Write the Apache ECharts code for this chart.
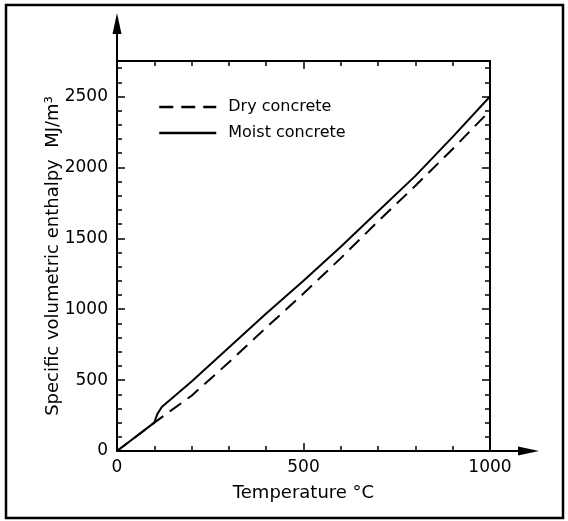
<!DOCTYPE html>
<html>
<head>
<meta charset="utf-8">
<script src="https://cdn.jsdelivr.net/npm/echarts@6/dist/echarts.min.js"></script>
<style>
html,body{margin:0;padding:0;background:#fff;}
#chart{width:568px;height:521px;}
</style>
</head>
<body>
<div id="chart"></div>
<script>
// Data
const dryTemp = [0, 100, 200, 300, 400, 500, 600, 700, 800, 900, 1000];
const dryEnthalpy = [0, 200, 390, 625, 870, 1110, 1360, 1620, 1870, 2130, 2400];
const moistTemp = [0, 100, 108, 120, 200, 300, 400, 500, 600, 700, 800, 900, 1000];
const moistEnthalpy = [0, 200, 260, 310, 490, 730, 970, 1200, 1440, 1690, 1940, 2215, 2500];
const seriesNames = ['Dry concrete', 'Moist concrete'];
const xTitle = 'Temperature °C';
const yTitle = 'Specific volumetric enthalpy  MJ/m³';

const FONT = 'DejaVu Sans';
const pairs = (xs, ys) => xs.map((x, i) => [x, ys[i]]);
const plain = v => String(v);

const chart = echarts.init(document.getElementById('chart'), null, {renderer: 'canvas'});

const lineAxis = {onZero: false, lineStyle: {color: '#000', width: 2}};
const tickIn = {show: true, inside: true, length: 8, lineStyle: {color: '#000', width: 1.5}};
const minorIn = {show: true, splitNumber: 5, length: 5, lineStyle: {color: '#000', width: 1.5}};

chart.setOption({
  animation: false,
  backgroundColor: '#fff',
  textStyle: {fontFamily: FONT, color: '#000'},
  grid: {left: 117, right: 78, top: 61, bottom: 70, containLabel: false},
  legend: {
    orient: 'vertical',
    left: 153,
    top: 94,
    itemWidth: 57,
    itemHeight: 20,
    itemGap: 10,
    data: seriesNames,
    itemStyle: {opacity: 0},
    lineStyle: {width: 2.5},
    textStyle: {fontFamily: FONT, fontSize: 16, color: '#000', padding: [0, 0, 0, 7]},
    selectedMode: false
  },
  xAxis: [{
    type: 'value', min: 0, max: 1000, interval: 500,
    name: xTitle, nameLocation: 'middle', nameGap: 33,
    nameTextStyle: {fontFamily: FONT, fontSize: 18, color: '#000'},
    axisLine: lineAxis, axisTick: tickIn, minorTick: minorIn,
    axisLabel: {fontFamily: FONT, fontSize: 17, color: '#000', margin: 8, formatter: plain},
    splitLine: {show: false}
  }, {
    type: 'value', position: 'top', min: 0, max: 1000, interval: 500,
    axisLine: lineAxis, axisTick: tickIn, minorTick: minorIn,
    axisLabel: {show: false}, splitLine: {show: false}
  }],
  yAxis: [{
    type: 'value', min: 0, max: 2750, interval: 500,
    name: yTitle, nameLocation: 'middle', nameGap: 55, nameMoveOverlap: false,
    nameTextStyle: {fontFamily: FONT, fontSize: 18, color: '#000'},
    axisLine: lineAxis, axisTick: tickIn, minorTick: minorIn,
    axisLabel: {fontFamily: FONT, fontSize: 17, color: '#000', margin: 9, showMaxLabel: false, formatter: plain},
    splitLine: {show: false}
  }, {
    type: 'value', position: 'right', min: 0, max: 2750, interval: 500,
    axisLine: lineAxis, axisTick: tickIn, minorTick: minorIn,
    axisLabel: {show: false}, splitLine: {show: false}
  }],
  series: [{
    name: seriesNames[0], type: 'line', data: pairs(dryTemp, dryEnthalpy),
    showSymbol: false, symbol: 'none', smooth: false,
    lineStyle: {color: '#000', width: 2, type: [14, 8]},
    itemStyle: {color: '#000'}
  }, {
    name: seriesNames[1], type: 'line', data: pairs(moistTemp, moistEnthalpy),
    showSymbol: false, symbol: 'none', smooth: false,
    lineStyle: {color: '#000', width: 2, type: 'solid'},
    itemStyle: {color: '#000'}
  }]
});

// Decorations: outer frame and axis arrows, positioned from the axes
const origin = chart.convertToPixel({xAxisIndex: 0, yAxisIndex: 0}, [0, 0]);
const topLeft = chart.convertToPixel({xAxisIndex: 0, yAxisIndex: 0}, [0, 2750]);
const botRight = chart.convertToPixel({xAxisIndex: 0, yAxisIndex: 0}, [1000, 0]);
const ax = origin[0], ay = origin[1];
const yTip = 13, xTip = 539;
chart.setOption({
  graphic: [
    {type: 'rect', shape: {x: 6, y: 5, width: 557, height: 513}, style: {fill: 'none', stroke: '#000', lineWidth: 2.5}, silent: true},
    {type: 'line', shape: {x1: ax, y1: topLeft[1], x2: ax, y2: yTip + 16}, style: {stroke: '#000', lineWidth: 2}},
    {type: 'polygon', shape: {points: [[ax, yTip], [ax - 4.5, yTip + 21], [ax + 4.5, yTip + 21]]}, style: {fill: '#000'}},
    {type: 'line', shape: {x1: botRight[0], y1: ay, x2: xTip - 16, y2: ay}, style: {stroke: '#000', lineWidth: 2}},
    {type: 'polygon', shape: {points: [[xTip, ay], [xTip - 21, ay - 4.5], [xTip - 21, ay + 4.5]]}, style: {fill: '#000'}}
  ]
});
</script>
</body>
</html>
